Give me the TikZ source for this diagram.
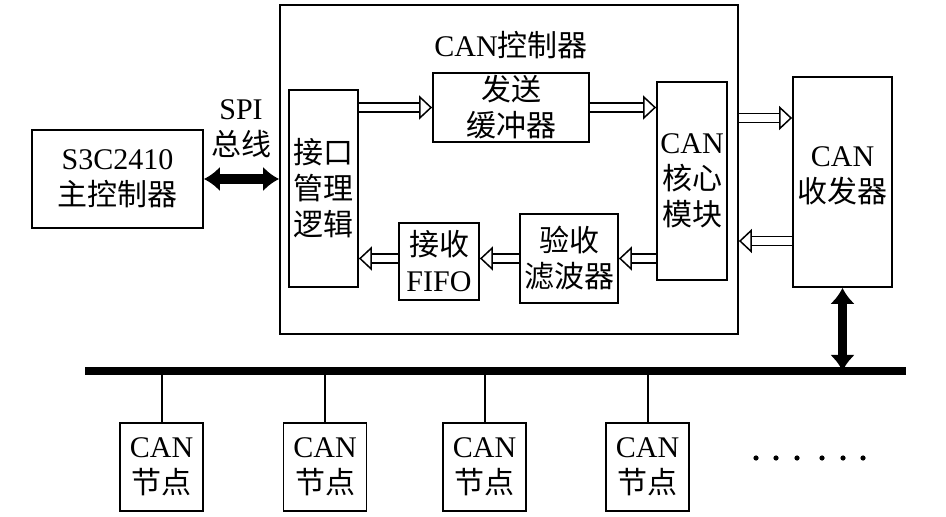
\documentclass[tikz,border=0pt]{standalone}
\usepackage{fontspec}
\setmainfont{Liberation Serif}
\newfontfamily\cjk{Noto Sans CJK SC}
\newcommand{\zh}[1]{{\cjk #1}}
\usetikzlibrary{arrows.meta,positioning}

\begin{document}
\begin{tikzpicture}[
  x=0.5pt, y=-0.5pt,
  txt/.style={align=center, inner sep=0pt, font=\fontsize{15}{18}\selectfont},
  box/.style={txt, draw, line width=0.9pt},
  hollow/.style={double, double distance=3.6pt, line width=0.75pt, -{Triangle[open, fill=white, length=6.5pt, width=12pt]}},
  spi/.style={{Latex[length=8pt, width=12.5pt]}-{Latex[length=8pt, width=12.5pt]}, line width=4.8pt},
  bus/.style={line width=3.6pt},
  drop/.style={line width=1pt}
]
\useasboundingbox (0,0) rectangle (946,517);

% CAN controller frame and its blocks
\node[box, minimum width=229pt, minimum height=164.5pt] (ctrl) at (509,169.5) {};
\node[txt] (title) at (511,45) {CAN\zh{控制器}};
\node[box, minimum width=34.5pt, minimum height=98.5pt] (iface) at (323.5,188.5) {\zh{接口}\\\zh{管理}\\\zh{逻辑}};
\node[box, minimum width=78pt, minimum height=34.5pt] (txbuf) at (511,107.5) {\zh{发送}\\\zh{缓冲器}};
\node[box, minimum width=35pt, minimum height=99pt] (core) at (692,181) {CAN\\\zh{核心}\\\zh{模块}};
\node[box, minimum width=49pt, minimum height=44.5pt] (filter) at (569,258.5) {\zh{验收}\\\zh{滤波器}};
\node[box, minimum width=40pt, minimum height=38.5pt] (fifo) at (439,261.5) {\zh{接收}\\FIFO};

% outside blocks
\node[box, minimum width=49.5pt, minimum height=105pt] (trx) at (842.5,182) {CAN\\\zh{收发器}\\[-11pt]};
\node[box, minimum width=85.5pt, minimum height=49pt] (host) at (117.5,179) {S3C2410\\\zh{主控制器}};
\node[txt] (spilbl) at (241,129) {SPI\\\zh{总线}};

% data paths
\draw[spi] (host.east) -- (host.east -| ctrl.west);
\draw[hollow] (iface.east |- txbuf.west) -- (txbuf.west);
\draw[hollow] (txbuf.east) -- (txbuf.east -| core.west);
\draw[hollow] (ctrl.east |- 0,118) -- (trx.west |- 0,118);
\draw[hollow] (trx.west |- 0,241) -- (ctrl.east |- 0,241);
\draw[hollow] (core.west |- filter.east) -- (filter.east);
\draw[hollow] (filter.west) -- (filter.west -| fifo.east);
\draw[hollow] (fifo.west |- filter.west) -- (iface.east |- filter.west);

% CAN bus
\coordinate (busL) at (85,371);
\coordinate (busR) at (906,371);
\draw[bus] (busL) -- (busR);
\draw[spi] (trx.south) -- (trx.south |- busL);

\foreach \i/\x in {1/161.5,2/325,3/484.5,4/647.5}{
  \node[box, minimum width=41.5pt, minimum height=44pt] (node\i) at (\x,467) {CAN\\\zh{节点}};
  \draw[drop] (node\i.north) -- (node\i.north |- busL);
}
\foreach \x in {756,776,797,822,843,863}
  \fill (\x,458) circle (1.3pt);
\end{tikzpicture}
\end{document}
